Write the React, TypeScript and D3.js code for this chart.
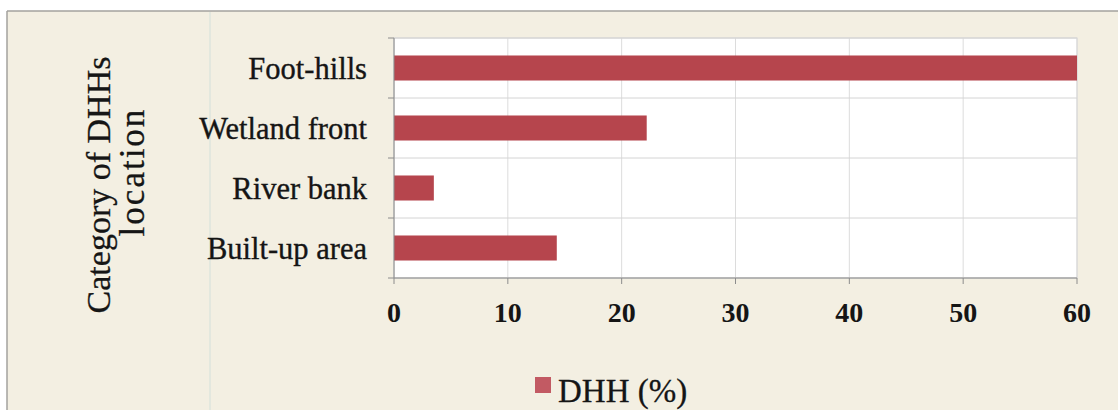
import React from "react";
import * as d3 from "d3";

const categories = ["Foot-hills", "Wetland front", "River bank", "Built-up area"];
const dhhValues = [60, 22.2, 3.5, 14.3];
const xTicks = [0, 10, 20, 30, 40, 50, 60];
const seriesName = "DHH (%)";
const axisTitleLines = ["Category of DHHs", "location"];

const W = 1118;
const H = 410;
const plot = { left: 394, right: 1077, top: 38, bottom: 278 };

export default function App() {
  const x = d3.scaleLinear().domain([0, 60]).range([plot.left, plot.right]);
  const y = d3
    .scaleBand<string>()
    .domain(categories)
    .range([plot.top, plot.bottom])
    .paddingInner(0.583)
    .paddingOuter(0.2915);
  const step = y.step();
  const boundaries = d3.range(categories.length + 1).map((i) => plot.top + i * step);
  const font = "'Liberation Serif', 'Times New Roman', serif";
  const barColor = "#b6454d";
  const ink = "#151515";

  return (
    <svg
      width={W}
      height={H}
      style={{ position: "absolute", left: 0, top: 0, background: "#ffffff" }}
    >
      <rect x={7} y={11} width={W - 7} height={H - 11} fill="#f3efe2" />
      <line x1={7} y1={11} x2={W} y2={11} stroke="#a3a29e" strokeWidth={1.5} />
      <line x1={7} y1={11} x2={7} y2={H} stroke="#a3a29e" strokeWidth={1.5} />
      <line x1={210} y1={12} x2={210} y2={H} stroke="#d3e0da" strokeWidth={1} />

      {/* plot area */}
      <rect
        x={plot.left}
        y={plot.top}
        width={plot.right - plot.left}
        height={plot.bottom - plot.top}
        fill="#ffffff"
        stroke="#d4d4d4"
        strokeWidth={1}
      />
      {/* vertical gridlines */}
      {xTicks.map((t) => (
        <line
          key={"vg" + t}
          x1={x(t)}
          x2={x(t)}
          y1={plot.top}
          y2={plot.bottom}
          stroke="#dcdcdc"
          strokeWidth={1}
        />
      ))}
      {/* horizontal gridlines */}
      {boundaries.map((b, i) => (
        <line
          key={"hg" + i}
          x1={plot.left}
          x2={plot.right}
          y1={b}
          y2={b}
          stroke="#d4d4d4"
          strokeWidth={1}
        />
      ))}
      {/* bars */}
      {categories.map((c, i) => (
        <rect
          key={c}
          x={x(0)}
          y={y(c)}
          width={x(dhhValues[i]) - x(0)}
          height={y.bandwidth()}
          fill={barColor}
        />
      ))}
      {/* axes */}
      <line x1={plot.left} x2={plot.left} y1={plot.top} y2={plot.bottom} stroke="#8c8c8c" strokeWidth={1} />
      <line x1={plot.left} x2={plot.right} y1={plot.bottom} y2={plot.bottom} stroke="#8c8c8c" strokeWidth={1} />
      {boundaries.map((b, i) => (
        <line key={"yt" + i} x1={plot.left - 6} x2={plot.left} y1={b} y2={b} stroke="#8c8c8c" strokeWidth={1} />
      ))}
      {xTicks.map((t) => (
        <line key={"xt" + t} x1={x(t)} x2={x(t)} y1={plot.bottom} y2={plot.bottom + 6} stroke="#8c8c8c" strokeWidth={1} />
      ))}
      {/* x tick labels */}
      {xTicks.map((t) => (
        <text
          key={"xl" + t}
          x={x(t)}
          y={322}
          textAnchor="middle"
          fontFamily={font}
          fontWeight="bold"
          fontSize={28}
          fill={ink}
        >
          {t}
        </text>
      ))}
      {/* category labels */}
      {categories.map((c) => (
        <text
          key={"cl" + c}
          x={367}
          y={(y(c) as number) + y.bandwidth() / 2}
          dy="0.36em"
          textAnchor="end"
          fontFamily={font}
          fontSize={30.5}
          fill={ink}
          stroke={ink}
          strokeWidth={0.35}
        >
          {c}
        </text>
      ))}
      {/* axis title */}
      <text
        transform="translate(110,185) rotate(-90)"
        textAnchor="middle"
        fontFamily={font}
        fontSize={34}
        fill={ink}
        stroke={ink}
        strokeWidth={0.3}
      >
        {axisTitleLines[0]}
      </text>
      <text
        transform="translate(144,172) rotate(-90)"
        textAnchor="middle"
        fontFamily={font}
        fontSize={35}
        letterSpacing={2}
        fill={ink}
        stroke={ink}
        strokeWidth={0.3}
      >
        {axisTitleLines[1]}
      </text>
      {/* legend */}
      <rect x={535} y={377} width={16} height={16} fill="#c25a63" />
      <text
        x={558}
        y={402}
        fontFamily={font}
        fontSize={33}
        fill={ink}
        stroke={ink}
        strokeWidth={0.3}
      >
        {seriesName}
      </text>
    </svg>
  );
}
